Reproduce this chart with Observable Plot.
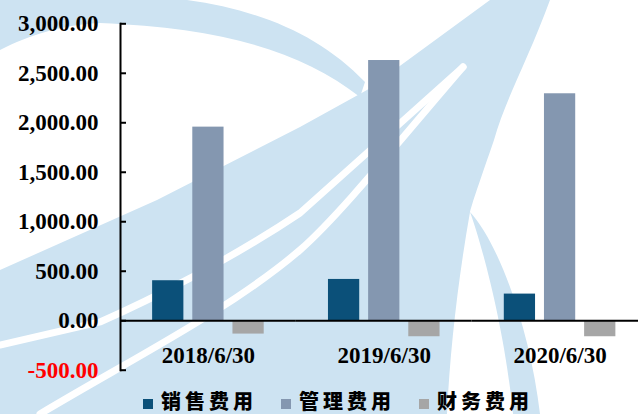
<!DOCTYPE html>
<html><head><meta charset="utf-8">
<script src="https://cdn.jsdelivr.net/npm/d3@7"></script>
<script src="https://cdn.jsdelivr.net/npm/@observablehq/plot@0.6"></script>
<style>
body{margin:0;background:#fff;}
#wrap{position:relative;width:638px;height:414px;overflow:hidden;background:#fff;}
#bg{position:absolute;left:0;top:0;}
#chart{position:absolute;left:0;top:0;}
#chart svg text{font-family:"Liberation Serif","Times New Roman",serif !important;}
#legend{position:absolute;left:0;top:389px;width:638px;height:24px;display:flex;align-items:center;padding-left:143px;box-sizing:border-box;gap:24px;font-family:"Noto Sans CJK SC","Noto Sans CJK TC",sans-serif;font-weight:900;font-size:20px;color:#000;}
.item{display:flex;align-items:center;height:24px}
.sw{width:10px;height:10px;margin-right:8px;position:relative;top:3px}
.lab{letter-spacing:4px;line-height:24px}
</style>
</head><body>
<div id="wrap">
<svg id="bg" width="638" height="414" viewBox="0 0 638 414">
  <g fill="#cde3f2">
    <path d="M0,0 L187,0 C260,10 320,35 365,82 L360,97 C300,50 220,28 100,23 C60,25 30,35 0,50 Z"/>
    <path d="M0,270 L157,200 L300,127 L367,90 L490,0 L550,0 C528,60 505,100 494,140 C482,175 473,200 470,212 C458,280 450,350 447,414 L0,414 Z"/>
    <path d="M470,212 C482,245 505,330 513,414 L540,414 C530,330 500,245 470,212 Z"/>
  </g>
  <g fill="none" stroke="#fff" stroke-linecap="round">
    <path d="M0,345 L100,322 C150,300 230,260 300,213 L463,67" stroke-width="7"/>
    <path d="M40,414 C130,360 230,310 300,250 C340,215 400,140 463,67" stroke-width="7"/>
  </g>
</svg>
<div id="chart"></div>
<div id="legend"></div>
</div>
<script>
const dates = ["2018/6/30", "2019/6/30", "2020/6/30"];
const series = ["销售费用", "管理费用", "财务费用"];
const sales = [404, 417, 269];
const admin = [1956, 2629, 2293];
const finance = [-135, -162, -162];
const yTicks = [-500, 0, 500, 1000, 1500, 2000, 2500, 3000];
const colors = ["#0b5079", "#8497b0", "#a6a6a6"];

const values = [sales, admin, finance];
const data = dates.flatMap((d, i) => series.map((s, j) => ({date: d, series: s, value: values[j][i]})));

const fmt = d3.formatLocale({decimal: ".", thousands: ",", grouping: [3], currency: ["", ""], minus: "-"}).format(",.2f");
const font = {fontSize: 23, fontWeight: "bold", fontFamily: "Liberation Serif"};

const plot = Plot.plot({
  width: 638, height: 390,
  marginLeft: 120, marginRight: -9.5, marginTop: 23.3, marginBottom: 20.3,
  style: {background: "transparent", overflow: "visible", fontFamily: "Liberation Serif"},
  fx: {domain: dates, padding: 0, round: false, label: null},
  x: {domain: series, paddingInner: 0.222, paddingOuter: 0.8, round: false, axis: null},
  y: {domain: [-500, 3000]},
  color: {domain: series, range: colors},
  marks: [
    Plot.barY(data, {fx: "date", x: "series", y: "value", fill: "series"}),
    Plot.ruleY([0], {stroke: "#000", strokeWidth: 2}),
    Plot.frame({anchor: "left", facetAnchor: "left", stroke: "#000", strokeWidth: 2}),
    Plot.axisY(yTicks, {tickSize: -6, text: null, strokeWidth: 2, label: null}),
    Plot.axisY(yTicks.filter(d => d >= 0), {tickSize: 0, tickPadding: 22, tickFormat: fmt, fill: "#000", label: null, ...font}),
    Plot.axisY(yTicks.filter(d => d < 0), {tickSize: 0, tickPadding: 22, tickFormat: fmt, fill: "#ff0000", label: null, ...font}),
    Plot.axisFx({anchor: "bottom", tickSize: 0, dy: -33, fill: "#000", label: null, ...font})
  ]
});
document.getElementById("chart").appendChild(plot);

const legend = document.getElementById("legend");
series.forEach((s, i) => {
  const item = document.createElement("div");
  item.className = "item";
  item.innerHTML = `<span class="sw" style="background:${colors[i]}"></span><span class="lab">${s}</span>`;
  legend.appendChild(item);
});
</script>
</body></html>
